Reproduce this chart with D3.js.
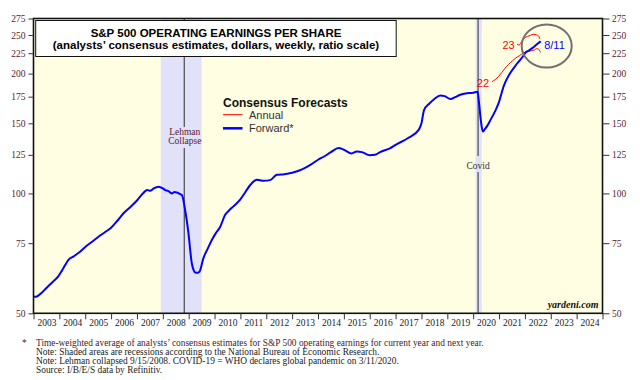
<!DOCTYPE html>
<html><head><meta charset="utf-8">
<script src="https://cdn.jsdelivr.net/npm/d3@7"></script>
<style>
html,body{margin:0;padding:0;background:#fff;}
svg{display:block;}
</style></head>
<body>
<svg id="c" width="640" height="380"></svg>
<script>
// ---- data ----
const yTicks = [50, 75, 100, 125, 150, 175, 200, 225, 250, 275];
const years = [2003,2004,2005,2006,2007,2008,2009,2010,2011,2012,2013,2014,2015,2016,2017,2018,2019,2020,2021,2022,2023,2024];
const recessions = [[2007.92, 2009.5], [2020.09, 2020.33]];
const events = [{t: 2008.83, lines: ["Lehman", "Collapse"]}, {t: 2020.19, lines: ["Covid"]}];

const fwdT = [2003.00,2003.10,2003.25,2003.40,2003.55,2003.75,2003.95,2004.10,2004.25,2004.35,2004.55,2004.80,
  2005.00,2005.25,2005.50,2005.75,2006.00,2006.25,2006.50,2006.75,2007.00,2007.20,2007.40,2007.51,2007.65,2007.83,
  2008.00,2008.09,2008.20,2008.35,2008.45,2008.54,2008.65,2008.74,2008.86,2008.99,2009.12,2009.20,2009.25,2009.35,
  2009.42,2009.57,2009.75,2009.90,2010.05,2010.22,2010.41,2010.55,2010.73,2010.99,2011.20,2011.38,2011.64,2011.89,
  2012.15,2012.41,2012.70,2013.00,2013.25,2013.50,2013.75,2014.00,2014.25,2014.50,2014.80,2015.00,2015.30,2015.50,
  2015.70,2016.00,2016.20,2016.40,2016.80,2017.00,2017.50,2017.90,2018.00,2018.10,2018.30,2018.50,2018.73,2018.90,
  2019.12,2019.30,2019.50,2019.75,2020.00,2020.17,2020.22,2020.30,2020.37,2020.45,2020.55,2020.67,2020.85,2020.99,
  2021.18,2021.44,2021.70,2021.95,2022.02,2022.15,2022.30,2022.50,2022.61];
const fwdV = [55.1,55.0,55.8,57.0,58.3,60.0,61.8,64.0,66.5,68.1,69.5,71.4,
  73.4,75.5,77.7,79.8,82.0,85.5,89.4,92.5,96.0,99.5,102.0,101.5,103.0,104.0,
  103.0,102.0,101.5,100.0,100.8,100.5,99.8,99.0,91.0,79.6,66.8,64.0,63.3,63.2,
  63.6,68.8,73.0,76.5,79.5,82.5,88.4,90.5,92.8,96.5,101.0,105.0,108.3,107.6,
  108.0,111.4,111.8,112.7,114.0,116.0,118.5,121.5,124.0,127.0,130.0,128.7,126.0,127.5,
  127.0,124.7,125.0,127.0,130.0,132.4,138.0,144.6,150.0,162.0,168.0,172.7,176.3,175.5,
  172.7,174.5,177.0,178.5,179.0,180.0,170.0,152.0,143.0,145.0,148.0,153.0,161.0,169.0,
  186.0,201.0,212.0,222.0,225.6,228.5,232.0,238.0,241.0];

const ann22T = [2020.73,2020.85,2020.99,2021.10,2021.20,2021.37,2021.51,2021.65,2021.80,2021.96,2022.10,2022.21,2022.35,2022.45,2022.54,2022.60];
const ann22V = [191,193,197,201,205,211,215,219,222,225.6,227,228,229,231,230,226];
const ann23T = [2021.70,2021.78,2021.89,2021.99,2022.10,2022.21,2022.33,2022.45,2022.53,2022.58];
const ann23V = [237,236,241.5,246,248,249.5,251,250,248.5,244];

const footnotes = [
  "*  Time-weighted average of analysts\u2019 consensus estimates for S&P 500 operating earnings for current year and next year.",
  "Note: Shaded areas are recessions according to the National Bureau of Economic Research.",
  "Note: Lehman collapsed 9/15/2008. COVID-19 = WHO declares global pandemic on 3/11/2020.",
  "Source: I/B/E/S data by Refinitiv."
];

// ---- layout ----
const L = 33.5, R = 602.5, T = 18.5, B = 313.3;
const svg = d3.select("#c");
const x = d3.scaleLinear().domain([2003, 2025]).range([L, R]);
const y = d3.scaleLog().domain([50, 275]).range([B, T]);
const serif = "'Liberation Serif','Times New Roman',serif";
const sans = "'Liberation Sans',Arial,sans-serif";

// background
svg.append("rect").attr("x", L).attr("y", T).attr("width", R - L).attr("height", B - T).attr("fill", "#FFFEE2");

// recessions
svg.selectAll("rect.rec").data(recessions).join("rect").attr("class", "rec")
  .attr("x", d => x(d[0])).attr("width", d => x(d[1]) - x(d[0]))
  .attr("y", T).attr("height", B - T).attr("fill", "#E1E1F9");

// event lines with gap for labels
const evLabelY = [[127, 148], [156, 172]];
events.forEach((e, i) => {
  const xx = x(e.t);
  const [g0, g1] = evLabelY[i];
  svg.append("line").attr("x1", xx).attr("x2", xx).attr("y1", T).attr("y2", g0).attr("stroke", "#555").attr("stroke-width", 1.3);
  svg.append("line").attr("x1", xx).attr("x2", xx).attr("y1", g1).attr("y2", B).attr("stroke", "#555").attr("stroke-width", 1.3);
  e.lines.forEach((s, j) => {
    svg.append("text").attr("x", xx + (i === 0 ? 0.5 : 0)).attr("y", (i === 0 ? 134.5 : 168.5) + j * 9.3)
      .attr("text-anchor", "middle").attr("font-family", serif).attr("font-size", 9.5)
      .attr("fill", i === 0 ? "#5a1a2a" : "#333").text(s);
  });
});

// lines
const line = d3.line().x(d => x(d[0])).y(d => y(d[1])).curve(d3.curveMonotoneX);
svg.append("path").datum(d3.zip(ann22T, ann22V)).attr("d", line).attr("fill", "none").attr("stroke", "#ff0000").attr("stroke-width", 1);
svg.append("path").datum(d3.zip(ann23T, ann23V)).attr("d", line).attr("fill", "none").attr("stroke", "#ff0000").attr("stroke-width", 1);
svg.append("path").datum(d3.zip(fwdT, fwdV)).attr("d", line).attr("fill", "none").attr("stroke", "#0000ff").attr("stroke-width", 2).attr("stroke-linejoin", "round");

// labels 22/23/8-11
svg.append("text").attr("x", x(ann22T[0]) - 3).attr("y", y(ann22V[0]) + 5.5).attr("text-anchor", "end")
  .attr("font-family", sans).attr("font-size", 11).attr("fill", "#ff0000").text("22");
svg.append("text").attr("x", x(ann23T[0]) - 2.5).attr("y", y(ann23V[0]) + 4.5).attr("text-anchor", "end")
  .attr("font-family", sans).attr("font-size", 11).attr("fill", "#ff0000").text("23");
svg.append("text").attr("x", x(fwdT[fwdT.length - 1]) + 3.5).attr("y", y(fwdV[fwdV.length - 1]) + 7.5)
  .attr("font-family", sans).attr("font-size", 11).attr("fill", "#0000ff").text("8/11");

// circle
svg.append("ellipse").attr("cx", 546.7).attr("cy", 46).attr("rx", 25).attr("ry", 21.5)
  .attr("fill", "none").attr("stroke", "#707070").attr("stroke-width", 2);

// legend
const lg = svg.append("g").attr("transform", "translate(223,0)");
lg.append("text").attr("x", 0).attr("y", 106.5).attr("font-family", sans).attr("font-weight", "bold").attr("font-size", 12).attr("fill", "#111").text("Consensus Forecasts");
lg.append("line").attr("x1", 0).attr("x2", 19.5).attr("y1", 114.7).attr("y2", 114.7).attr("stroke", "#ff0000").attr("stroke-width", 1);
lg.append("text").attr("x", 26).attr("y", 118.5).attr("font-family", sans).attr("font-size", 11).attr("fill", "#333").text("Annual");
lg.append("line").attr("x1", 0).attr("x2", 19.5).attr("y1", 128.3).attr("y2", 128.3).attr("stroke", "#0000ff").attr("stroke-width", 2.5);
lg.append("text").attr("x", 26).attr("y", 132).attr("font-family", sans).attr("font-size", 11).attr("fill", "#333").text("Forward*");

// title box
svg.append("rect").attr("x", 35.7).attr("y", 20.5).attr("width", 360.5).attr("height", 36).attr("fill", "#fff").attr("stroke", "#111").attr("stroke-width", 1);
svg.append("text").attr("x", 216).attr("y", 36.5).attr("text-anchor", "middle").attr("font-family", sans).attr("font-weight", "bold").attr("font-size", 11.5).attr("fill", "#000").text("S&P 500 OPERATING EARNINGS PER SHARE");
svg.append("text").attr("x", 216).attr("y", 48.5).attr("text-anchor", "middle").attr("font-family", sans).attr("font-weight", "bold").attr("font-size", 11.5).attr("fill", "#000").text("(analysts\u2019 consensus estimates, dollars, weekly, ratio scale)");

// watermark
svg.append("text").attr("x", 598.5).attr("y", 308.3).attr("text-anchor", "end").attr("font-family", serif).attr("font-weight", "bold").attr("font-style", "italic").attr("font-size", 10).attr("fill", "#111").text("yardeni.com");

// frame
svg.append("rect").attr("x", L).attr("y", T).attr("width", R - L).attr("height", B - T).attr("fill", "none").attr("stroke", "#111").attr("stroke-width", 1.6);

// axes
function styleAxis(g, color) {
  g.select(".domain").remove();
  g.selectAll(".tick line").attr("stroke", "#333").attr("stroke-width", 1);
  g.selectAll(".tick text").attr("font-family", serif).attr("font-size", 9.5).attr("fill", color);
}
svg.append("g").attr("transform", `translate(${L},0)`)
  .call(d3.axisLeft(y).tickValues(yTicks).tickFormat(d3.format("d")).tickSize(5).tickPadding(3))
  .call(g => styleAxis(g, "#5a2228"));
svg.append("g").attr("transform", `translate(${R},0)`)
  .call(d3.axisRight(y).tickValues(yTicks).tickFormat(d3.format("d")).tickSize(7).tickPadding(2.5))
  .call(g => styleAxis(g, "#5a2228"));
svg.append("g").attr("transform", `translate(0,${B})`)
  .call(d3.axisBottom(x).tickValues(d3.range(2003, 2026)).tickFormat("").tickSize(6))
  .call(g => styleAxis(g, "#222"));
svg.append("g").attr("transform", `translate(0,${B})`)
  .call(d3.axisBottom(x).tickValues(years.map(v => v + 0.5)).tickFormat(d => String(Math.floor(d))).tickSize(0).tickPadding(6))
  .call(g => styleAxis(g, "#222"));

// footnotes
const fnY = 346, fnStep = 9, fnSize = 9.4;
footnotes.forEach((s, i) => {
  if (i === 0) {
    svg.append("text").attr("x", 22).attr("y", fnY).attr("font-family", serif).attr("font-size", fnSize).attr("fill", "#4a1a2a").text("*");
    svg.append("text").attr("x", 36).attr("y", fnY).attr("font-family", serif).attr("font-size", fnSize).attr("fill", "#4a1a2a").text(s.replace(/^\*\s+/, ""));
  } else {
    svg.append("text").attr("x", 36).attr("y", fnY + i * fnStep).attr("font-family", serif).attr("font-size", fnSize).attr("fill", "#222").text(s);
  }
});
</script>
</body></html>
